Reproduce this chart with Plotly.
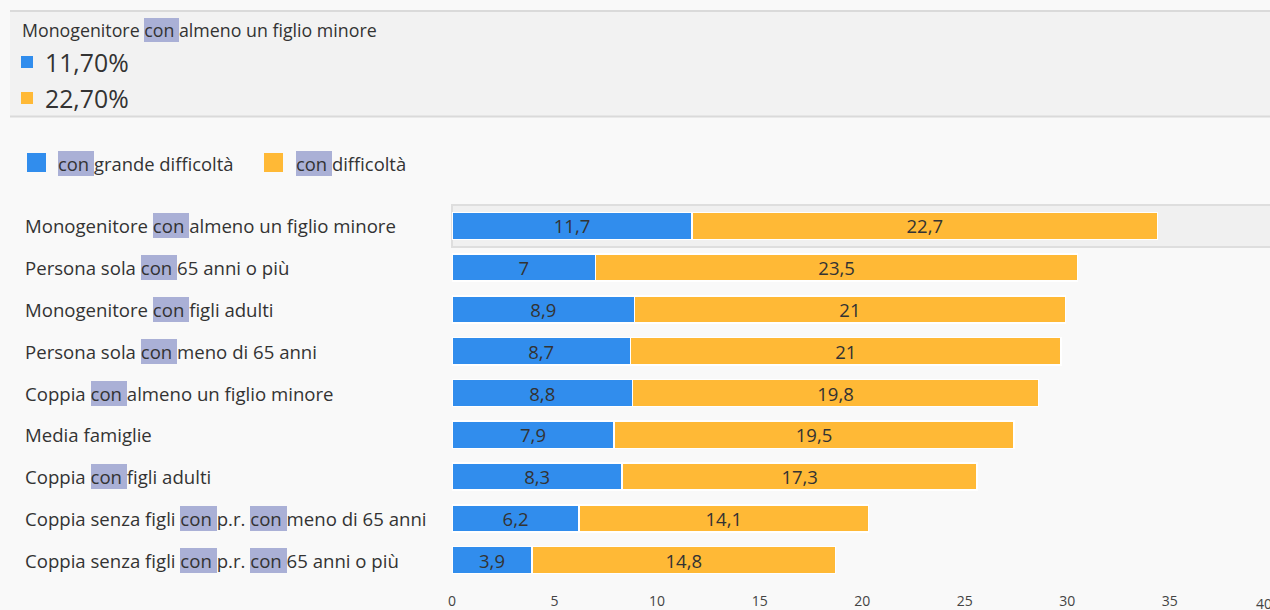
import plotly.graph_objects as go

categories = [
    "Monogenitore con almeno un figlio minore",
    "Persona sola con 65 anni o più",
    "Monogenitore con figli adulti",
    "Persona sola con meno di 65 anni",
    "Coppia con almeno un figlio minore",
    "Media famiglie",
    "Coppia con figli adulti",
    "Coppia senza figli con p.r. con meno di 65 anni",
    "Coppia senza figli con p.r. con 65 anni o più",
]
grande_difficolta = [11.7, 7, 8.9, 8.7, 8.8, 7.9, 8.3, 6.2, 3.9]
difficolta = [22.7, 23.5, 21, 21, 19.8, 19.5, 17.3, 14.1, 14.8]
series_names = ["con grande difficoltà", "con difficoltà"]
x_ticks = [0, 5, 10, 15, 20, 25, 30, 35, 40]
hover_index = 0

BLUE = "#318ded"
ORANGE = "#ffb936"
BG = "#f9f9f9"
TIP_BG = "#f2f2f2"
HL = "#aab0d6"
TXT = "#333333"
FONT = "Open Sans"

W, H = 1270, 610
L, T, B = 452, 205, 29
PW = W - L
PH = H - T - B
UNIT = 20.51  # pixels per unit on the value axis
X_MAX = PW / UNIT


def px2x(px):
    return (px - L) / PW


def py2y(py):
    return (H - B - py) / PH


def fmt(v):
    s = f"{v:g}"
    return s.replace(".", ",")


fig = go.Figure()
for vals, col, name in [(grande_difficolta, BLUE, series_names[0]), (difficolta, ORANGE, series_names[1])]:
    fig.add_trace(go.Bar(
        y=categories, x=vals, orientation="h", name=name,
        marker=dict(color=col, line=dict(color="white", width=1.5)),
        text=[fmt(v) for v in vals], textposition="inside", textangle=0,
        insidetextanchor="middle", constraintext="none",
        textfont=dict(family=FONT, size=18.5, color=TXT),
    ))

annotations = []
shapes = []
ZW = "\u200b"


def nb(s):
    return s.replace(" ", "\u00a0")


def highlighted_text(s, size, xref, x, yref, y, mask_bg):
    word = "con "
    idxs = []
    start = 0
    while True:
        i = s.find(word, start)
        if i < 0:
            break
        if i == 0 or s[i - 1] == " ":
            idxs.append(i)
        start = i + 1
    common = dict(xref=xref, yref=yref, x=x, y=y, xanchor="left", yanchor="middle",
                  showarrow=False, borderpad=0, borderwidth=0)
    for i in reversed(idxs):
        annotations.append(dict(text=nb(s[:i + len(word)]) + ZW, bgcolor=HL,
                                font=dict(family=FONT, size=size, color="rgba(0,0,0,0)"), **common))
        if i > 0:
            annotations.append(dict(text=nb(s[:i]) + ZW, bgcolor=mask_bg,
                                    font=dict(family=FONT, size=size, color="rgba(0,0,0,0)"), **common))
    annotations.append(dict(text=nb(s), font=dict(family=FONT, size=size, color=TXT), **common))


# hover band on the highlighted row
shapes.append(dict(type="rect", xref="paper", yref="paper", x0=0, x1=1.01,
                   y0=py2y(247), y1=py2y(205), fillcolor="#f0f0f0",
                   line=dict(color="#dedede", width=2), layer="below"))

# category labels
for c in categories:
    highlighted_text(c, 18.6, "paper", px2x(25), "y", c, BG)

# custom legend
leg = [(27, 58, BLUE, series_names[0]), (264, 296, ORANGE, series_names[1])]
for sx, tx, col, name in leg:
    shapes.append(dict(type="rect", xref="paper", yref="paper", x0=px2x(sx), x1=px2x(sx + 19),
                       y0=py2y(172), y1=py2y(153), fillcolor=col, line=dict(width=0)))
    highlighted_text(name, 18.4, "paper", px2x(tx), "paper", py2y(163), BG)

# tooltip box
shapes.append(dict(type="rect", xref="paper", yref="paper", x0=px2x(10), x1=px2x(1272),
                   y0=py2y(117), y1=py2y(11), fillcolor=TIP_BG, line=dict(width=0)))
for yy in (11, 116.5):
    shapes.append(dict(type="line", xref="paper", yref="paper", x0=px2x(10), x1=px2x(1272),
                       y0=py2y(yy), y1=py2y(yy), line=dict(color="#dadada", width=2)))
highlighted_text(categories[hover_index], 17.8, "paper", px2x(22), "paper", py2y(30), TIP_BG)
tip_vals = [grande_difficolta[hover_index], difficolta[hover_index]]
for k, (v, col) in enumerate(zip(tip_vals, [BLUE, ORANGE])):
    cy = 62 + k * 36
    shapes.append(dict(type="rect", xref="paper", yref="paper", x0=px2x(21), x1=px2x(33),
                       y0=py2y(cy + 6), y1=py2y(cy - 6), fillcolor=col, line=dict(width=0)))
    annotations.append(dict(text=f"{v:.2f}".replace(".", ",") + "%", xref="paper", yref="paper",
                            x=px2x(43), y=py2y(cy), xanchor="left", yanchor="middle",
                            showarrow=False, font=dict(family=FONT, size=24.8, color=TXT)))

# last tick label (its tick lies just beyond the visible edge)
annotations.append(dict(text=str(x_ticks[-1]), xref="paper", yref="paper", x=px2x(1255), y=py2y(603),
                        xanchor="left", yanchor="middle", showarrow=False, borderpad=0,
                        font=dict(family=FONT, size=14, color="#444")))

fig.update_layout(
    width=W, height=H,
    margin=dict(l=L, r=0, t=T, b=B, pad=0),
    paper_bgcolor=BG, plot_bgcolor=BG,
    barmode="stack", bargap=0.35,
    showlegend=False,
    separators=",.",
    xaxis=dict(range=[0, X_MAX], tickvals=x_ticks[:-1], ticktext=[str(t) for t in x_ticks[:-1]],
               showgrid=False, zeroline=False, showline=False, ticks="", ticklabelstandoff=10,
               tickfont=dict(family=FONT, size=14, color="#444"), fixedrange=True),
    yaxis=dict(autorange="reversed", showticklabels=False, showgrid=False, zeroline=False,
               showline=False, ticks="", fixedrange=True),
    annotations=annotations,
    shapes=shapes,
)

fig.write_html("out.html", config={"displayModeBar": False})
